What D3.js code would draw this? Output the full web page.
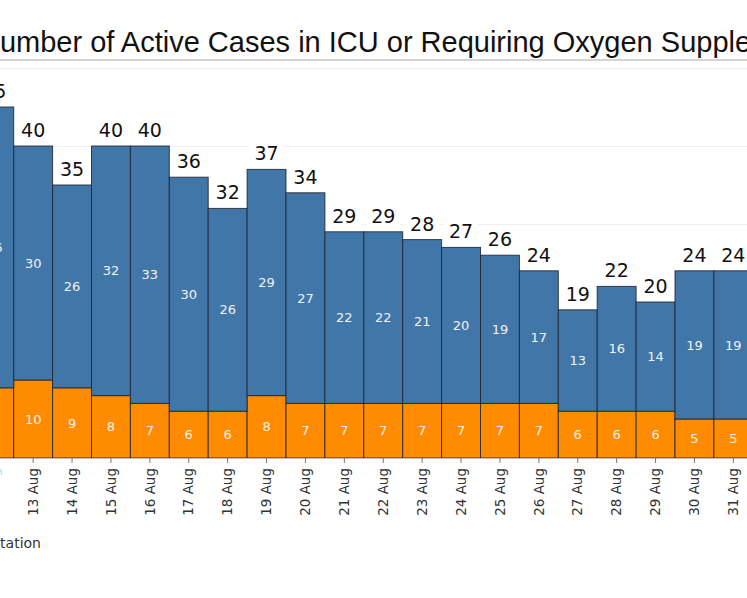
<!DOCTYPE html>
<html>
<head>
<meta charset="utf-8">
<script src="https://cdn.jsdelivr.net/npm/d3@7"></script>
<style>
  body { margin: 0; background: #fff; overflow: hidden; }
  svg { display: block; }
</style>
</head>
<body>
<svg id="chart" width="747" height="598"></svg>
<script>
// values
const dates = ['12 Aug','13 Aug','14 Aug','15 Aug','16 Aug','17 Aug','18 Aug','19 Aug','20 Aug','21 Aug',
               '22 Aug','23 Aug','24 Aug','25 Aug','26 Aug','27 Aug','28 Aug','29 Aug','30 Aug','31 Aug'];
const icu = [9, 10, 9, 8, 7, 6, 6, 8, 7, 7, 7, 7, 7, 7, 7, 6, 6, 6, 5, 5];
const oxygen = [36, 30, 26, 32, 33, 30, 26, 29, 27, 22, 22, 21, 20, 19, 17, 13, 16, 14, 19, 19];
const yTicks = [0, 10, 20, 30, 40, 50];
const seriesNames = ['icu', 'oxygen'];
const colors = { icu: '#ff8c00', oxygen: '#4177a8' };

const rows = dates.map((d, i) => ({ date: d, icu: icu[i], oxygen: oxygen[i] }));
const stacked = d3.stack().keys(seriesNames)(rows);

const svg = d3.select('#chart');
const baseY = 458;

const x = d3.scaleBand().domain(dates).range([-25.2, 752.8]).paddingInner(0).paddingOuter(0);
const y = d3.scaleLinear().domain([0, 50]).range([baseY, 68]);

// title, cut at the left edge like the original
svg.append('text')
  .attr('x', -21).attr('y', 52)
  .attr('font-family', 'Liberation Sans, Arial, sans-serif')
  .attr('font-size', 29)
  .attr('fill', '#111')
  .text('Number of Active Cases in ICU or Requiring Oxygen Supplementation');

svg.append('line')
  .attr('x1', 0).attr('x2', 747).attr('y1', 60).attr('y2', 60)
  .attr('stroke', '#d4d4d4').attr('stroke-width', 2);

// gridlines
svg.append('g')
  .selectAll('line')
  .data(yTicks)
  .join('line')
  .attr('x1', 0).attr('x2', 747)
  .attr('y1', d => y(d) + 0.5).attr('y2', d => y(d) + 0.5)
  .attr('stroke', '#f0f0f0');

// stacked bars
svg.append('g')
  .selectAll('g')
  .data(stacked)
  .join('g')
  .attr('fill', s => colors[s.key])
  .selectAll('rect')
  .data(s => s)
  .join('rect')
  .attr('x', d => x(d.data.date))
  .attr('y', d => y(d[1]))
  .attr('width', x.bandwidth())
  .attr('height', d => y(d[0]) - y(d[1]))
  .attr('stroke', '#1e2530')
  .attr('stroke-opacity', 0.85)
  .attr('stroke-width', 1);

// segment labels
svg.append('g')
  .selectAll('g')
  .data(stacked)
  .join('g')
  .selectAll('text')
  .data(s => s)
  .join('text')
  .attr('x', d => x(d.data.date) + x.bandwidth() / 2)
  .attr('y', d => (y(d[0]) + y(d[1])) / 2)
  .attr('dy', '0.36em')
  .attr('text-anchor', 'middle')
  .attr('font-family', 'DejaVu Sans, Verdana, sans-serif')
  .attr('font-size', 13)
  .attr('fill', '#f2f2f2')
  .text(d => d[1] - d[0]);

// totals on top, with white backing like the original
const totals = svg.append('g')
  .selectAll('g')
  .data(rows)
  .join('g')
  .attr('transform', d => `translate(${x(d.date) + x.bandwidth() / 2},${y(d.icu + d.oxygen) - 9})`);

totals.append('rect')
  .attr('x', -17).attr('y', -19).attr('width', 34).attr('height', 24)
  .attr('fill', '#fff');

totals.append('text')
  .attr('text-anchor', 'middle')
  .attr('font-family', 'DejaVu Sans, Verdana, sans-serif')
  .attr('font-size', 19)
  .attr('fill', '#111')
  .text(d => d.icu + d.oxygen);

// x axis
const xAxis = d3.axisBottom(x).tickSize(5).tickPadding(5);
const gx = svg.append('g')
  .attr('transform', `translate(0,${baseY})`)
  .call(xAxis);
gx.select('.domain').attr('stroke', '#bdbdbd').attr('d', 'M0,0.5H747');
gx.selectAll('.tick line').attr('stroke', '#777');
gx.selectAll('.tick text')
  .attr('font-family', 'DejaVu Sans, Verdana, sans-serif')
  .attr('font-size', 13.5)
  .attr('fill', d => d === '12 Aug' ? '#9fd8f2' : '#333')
  .attr('transform', 'rotate(-90)')
  .attr('text-anchor', 'end')
  .attr('x', -10)
  .attr('y', 0)
  .attr('dy', '0.35em');

// legend text, mostly off the left edge
svg.append('text')
  .attr('x', 41).attr('y', 548)
  .attr('text-anchor', 'end')
  .attr('font-family', 'DejaVu Sans, Verdana, sans-serif')
  .attr('font-size', 14)
  .attr('fill', '#333')
  .text('Requiring Oxygen Supplementation');
</script>
</body>
</html>
